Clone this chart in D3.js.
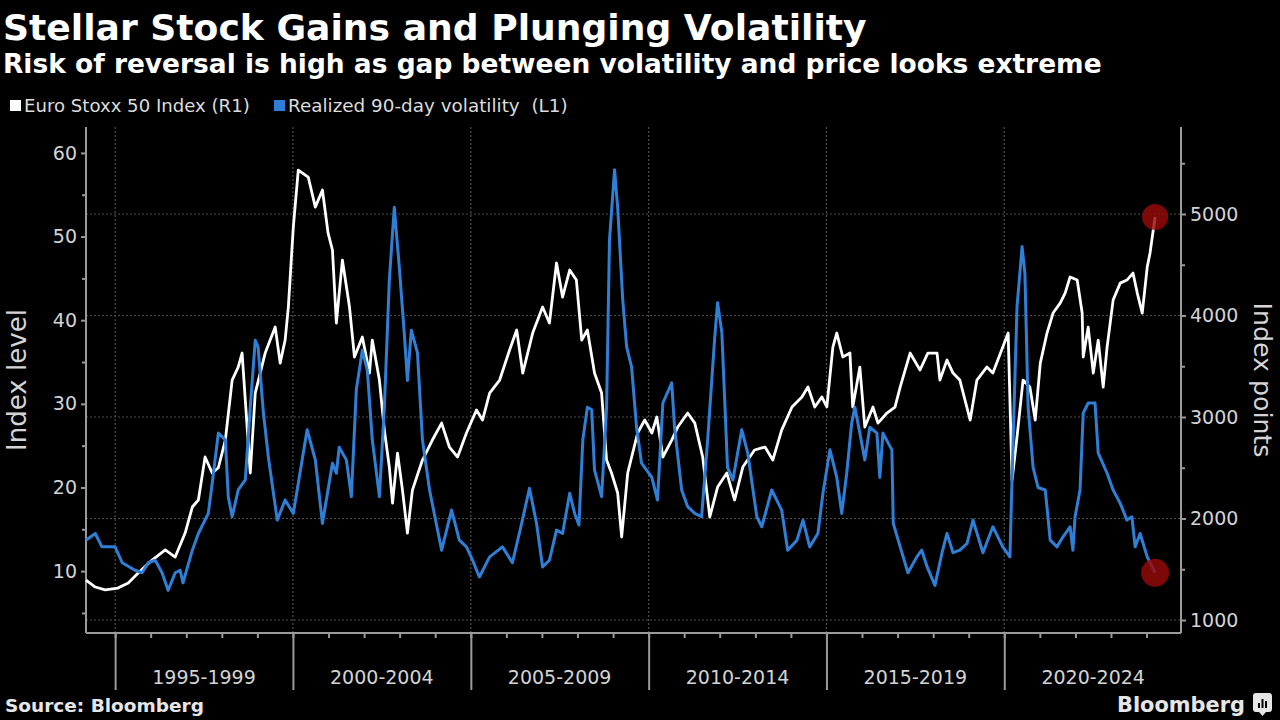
<!DOCTYPE html>
<html>
<head>
<meta charset="utf-8">
<script src="https://cdn.jsdelivr.net/npm/d3@7"></script>
<style>
  html, body { margin: 0; padding: 0; background: #000; }
  svg { display: block; }
  text { font-family: "DejaVu Sans", "Noto Sans", sans-serif; }
</style>
</head>
<body>
<svg id="chart" width="1280" height="720"></svg>
<script>
// ---------------- DATA ----------------
const titleText = "Stellar Stock Gains and Plunging Volatility";
const subtitleText = "Risk of reversal is high as gap between volatility and price looks extreme";
const legendLabels = ["Euro Stoxx 50 Index (R1)", "Realized 90-day volatility  (L1)"];
const periodLabels = ["1995-1999", "2000-2004", "2005-2009", "2010-2014", "2015-2019", "2020-2024"];
const leftTicks = [10, 20, 30, 40, 50, 60];
const leftMinorTicks = [5, 15, 25, 35, 45, 55];
const rightTicks = [1000, 2000, 3000, 4000, 5000];
const rightMinorTicks = [1500, 2500, 3500, 4500, 5500];

// Euro Stoxx 50 index (right axis), decimal year
const indexYears = [1994.18,1994.44,1994.72,1995.08,1995.37,1995.65,1996.04,1996.41,1996.69,1996.97,1997.17,1997.34,1997.53,1997.73,1997.90,1998.10,1998.29,1998.46,1998.57,1998.66,1998.80,1998.94,1999.22,1999.50,1999.64,1999.78,1999.87,2000.01,2000.15,2000.43,2000.63,2000.83,2000.99,2001.11,2001.22,2001.39,2001.59,2001.73,2001.95,2002.15,2002.23,2002.43,2002.57,2002.71,2002.80,2002.94,2003.08,2003.22,2003.36,2003.64,2003.92,2004.18,2004.40,2004.63,2004.88,2005.16,2005.33,2005.53,2005.81,2006.09,2006.29,2006.46,2006.74,2007.02,2007.21,2007.41,2007.58,2007.78,2007.97,2008.12,2008.28,2008.48,2008.68,2008.82,2008.96,2009.13,2009.24,2009.41,2009.69,2009.89,2010.09,2010.23,2010.40,2010.65,2010.82,2011.10,2011.30,2011.52,2011.72,2011.94,2012.20,2012.42,2012.65,2012.98,2013.27,2013.49,2013.74,2014.03,2014.31,2014.48,2014.67,2014.87,2015.01,2015.18,2015.29,2015.46,2015.66,2015.74,2015.94,2016.08,2016.31,2016.45,2016.70,2016.93,2017.07,2017.35,2017.63,2017.85,2018.11,2018.19,2018.39,2018.56,2018.75,2019.04,2019.23,2019.51,2019.68,2019.96,2020.11,2020.22,2020.36,2020.53,2020.72,2020.87,2021.01,2021.20,2021.37,2021.57,2021.71,2021.85,2022.05,2022.19,2022.22,2022.36,2022.50,2022.64,2022.78,2022.89,2023.06,2023.26,2023.45,2023.62,2023.74,2023.88,2024.02,2024.10,2024.24];
const indexValues = [1394,1325,1296,1315,1365,1463,1591,1690,1620,1857,2113,2182,2606,2448,2500,2773,3364,3492,3630,3167,2448,3236,3630,3886,3531,3758,4083,4871,5433,5364,5068,5236,4812,4645,3926,4546,4083,3591,3788,3433,3758,3364,2871,2507,2152,2645,2280,1857,2280,2576,2773,2940,2704,2606,2842,3069,2970,3236,3364,3660,3857,3433,3827,4083,3926,4517,4182,4448,4349,3758,3857,3433,3236,2576,2448,2251,1818,2448,2842,2970,2842,3000,2606,2773,2901,3039,2940,2606,2015,2310,2448,2182,2507,2675,2704,2576,2871,3098,3197,3295,3098,3197,3100,3689,3827,3591,3630,3098,3492,2901,3098,2940,3039,3098,3295,3630,3463,3630,3630,3364,3561,3433,3364,2970,3364,3492,3433,3689,3827,2379,2803,3364,3295,2970,3531,3827,4024,4122,4221,4379,4349,4024,3591,3886,3433,3758,3295,3689,4152,4319,4349,4418,4221,4024,4477,4615,4970];

// Realized 90-day volatility (left axis), decimal year
const volYears = [1994.18,1994.44,1994.63,1995.00,1995.20,1995.56,1995.76,1995.93,1996.13,1996.32,1996.49,1996.69,1996.83,1996.91,1997.17,1997.34,1997.62,1997.73,1997.90,1998.10,1998.18,1998.29,1998.46,1998.66,1998.80,1998.94,1999.02,1999.17,1999.31,1999.56,1999.78,2000.01,2000.40,2000.63,2000.83,2001.11,2001.22,2001.30,2001.50,2001.64,2001.78,2001.95,2002.09,2002.23,2002.43,2002.57,2002.71,2002.85,2002.99,2003.13,2003.22,2003.33,2003.50,2003.64,2003.84,2004.03,2004.18,2004.46,2004.68,2004.88,2005.05,2005.24,2005.53,2005.89,2006.17,2006.43,2006.65,2006.85,2007.02,2007.21,2007.41,2007.58,2007.78,2007.92,2008.04,2008.15,2008.28,2008.40,2008.48,2008.68,2008.82,2008.90,2009.04,2009.13,2009.27,2009.38,2009.52,2009.66,2009.80,2010.09,2010.25,2010.40,2010.65,2010.73,2010.93,2011.10,2011.30,2011.49,2011.66,2011.86,2011.94,2012.06,2012.22,2012.37,2012.62,2012.79,2013.04,2013.18,2013.46,2013.74,2013.91,2014.17,2014.34,2014.53,2014.76,2014.90,2015.10,2015.29,2015.43,2015.57,2015.71,2015.80,2015.94,2016.08,2016.22,2016.42,2016.50,2016.59,2016.84,2016.88,2017.07,2017.29,2017.54,2017.68,2017.83,2018.05,2018.25,2018.39,2018.56,2018.75,2018.95,2019.12,2019.40,2019.68,2019.96,2020.16,2020.25,2020.36,2020.50,2020.58,2020.67,2020.81,2020.95,2021.15,2021.29,2021.48,2021.65,2021.85,2021.93,2021.99,2022.13,2022.22,2022.36,2022.55,2022.64,2022.89,2023.06,2023.26,2023.45,2023.59,2023.68,2023.82,2024.02,2024.24];
const volValues = [13.7,14.5,12.9,12.9,11.0,10.1,9.8,11.0,11.3,9.8,7.7,9.8,10.1,8.6,12.5,14.5,16.9,20.5,26.5,25.7,18.9,16.5,19.7,20.9,29.6,37.6,36.8,28.9,23.6,16.1,18.5,16.9,26.9,23.3,15.7,22.9,21.7,24.8,23.3,18.9,31.7,36.4,34.0,25.7,18.9,29.6,44.8,53.5,46.4,38.5,32.8,38.8,36.1,25.7,19.7,15.7,12.5,17.3,13.7,12.9,11.3,9.3,11.7,12.9,11.0,15.7,19.9,15.7,10.5,11.3,14.9,14.5,19.3,16.9,15.5,25.7,29.6,29.3,22.1,18.9,29.6,49.6,58.0,53.5,42.4,36.8,34.4,27.2,22.9,21.2,18.5,30.1,32.5,27.2,19.7,17.7,16.9,16.5,25.7,38.0,42.1,38.5,22.4,20.9,26.9,24.1,16.5,15.3,19.7,17.3,12.5,13.7,16.1,12.9,14.5,19.3,24.5,21.2,16.9,21.7,27.7,29.6,26.5,23.3,27.2,26.5,21.2,26.5,24.5,15.7,12.9,9.8,11.7,12.5,10.5,8.3,12.2,14.5,12.2,12.5,13.3,16.1,12.2,15.3,12.9,11.7,25.7,41.6,48.8,45.6,29.6,22.4,20.0,19.7,13.7,12.9,14.1,15.3,12.5,16.5,19.7,28.9,30.1,30.1,24.1,21.7,19.7,18.1,16.1,16.5,12.9,14.5,11.7,9.8];

// ---------------- HELPERS ----------------
function decToDate(y) {
  const yr = Math.floor(y);
  const f = y - yr;
  return new Date(yr, 0, 1 + Math.round(f * 365));
}
const indexData = indexYears.map((y, i) => ({ date: decToDate(y), value: indexValues[i] }));
const volData = volYears.map((y, i) => ({ date: decToDate(y), value: volValues[i] }));

const svg = d3.select("#chart");
svg.append("rect").attr("width", 1280).attr("height", 720).attr("fill", "#000");

function fitText(sel, targetWidth) {
  const node = sel.node();
  const base = parseFloat(sel.attr("font-size"));
  const w = node.getComputedTextLength();
  if (w > 0) sel.attr("font-size", (base * targetWidth / w).toFixed(2));
  return sel;
}

// ---------------- LAYOUT ----------------
const plot = { left: 86, right: 1181, top: 127, bottom: 633 };

const x = d3.scaleTime()
  .domain([decToDate(1994.18), decToDate(2024.97)])
  .range([plot.left, plot.right]);
const yL = d3.scaleLinear().domain([2.6, 63.1]).range([plot.bottom, plot.top]);
const yR = d3.scaleLinear().domain([872, 5857]).range([plot.bottom, plot.top]);

const gridColor = "#4d4d4d";
const axisColor = "#9a9a9a";
const labelColor = "#d4d4d4";

// ---------------- GRID ----------------
const majorYears = d3.range(1995, 2021, 5).map(y => new Date(y, 0, 1));
const minorYears = d3.range(1995, 2025).map(y => new Date(y, 0, 1));

svg.append("g").selectAll("line").data(rightTicks).join("line")
  .attr("x1", plot.left).attr("x2", plot.right)
  .attr("y1", d => yR(d)).attr("y2", d => yR(d))
  .attr("stroke", gridColor).attr("stroke-width", 1.2).attr("stroke-dasharray", "2,2");

svg.append("g").selectAll("line").data(majorYears).join("line")
  .attr("x1", d => x(d)).attr("x2", d => x(d))
  .attr("y1", plot.top).attr("y2", plot.bottom)
  .attr("stroke", gridColor).attr("stroke-width", 1.2).attr("stroke-dasharray", "2,2");

// ---------------- AXES ----------------
const gL = svg.append("g").attr("transform", `translate(${plot.left},0)`);
gL.call(d3.axisLeft(yL).tickValues(leftTicks).tickSize(5).tickPadding(4).tickFormat(d3.format("d")));
gL.append("g").call(d3.axisLeft(yL).tickValues(leftMinorTicks).tickSize(4).tickFormat(""));
gL.selectAll(".domain").attr("d", `M0,${plot.top}V${plot.bottom}`);

const gR = svg.append("g").attr("transform", `translate(${plot.right},0)`);
gR.call(d3.axisRight(yR).tickValues(rightTicks).tickSize(5).tickPadding(4).tickFormat(d3.format("d")));
gR.append("g").call(d3.axisRight(yR).tickValues(rightMinorTicks).tickSize(4).tickFormat(""));
gR.selectAll(".domain").attr("d", `M0,${plot.top}V${plot.bottom}`);

const gB = svg.append("g").attr("transform", `translate(0,${plot.bottom})`);
gB.call(d3.axisBottom(x).tickValues(minorYears).tickSize(5).tickFormat(""));
gB.append("g").call(d3.axisBottom(x).tickValues(majorYears).tickSize(57).tickFormat(""));
gB.selectAll(".domain").attr("d", `M${plot.left},0H${plot.right}`);

svg.selectAll(".domain").attr("stroke", axisColor).attr("stroke-width", 2);
svg.selectAll(".tick line").attr("stroke", axisColor).attr("stroke-width", 2);
svg.selectAll(".tick text").attr("fill", labelColor).attr("font-size", 19)
  .attr("font-family", "DejaVu Sans, sans-serif");

svg.append("g").selectAll("text").data(periodLabels).join("text")
  .attr("x", (d, i) => x(new Date(1997 + 5 * i, 6, 2)))
  .attr("y", 684)
  .attr("text-anchor", "middle")
  .attr("fill", labelColor).attr("font-size", 19)
  .text(d => d);

const lt = svg.append("text")
  .attr("transform", "translate(26,380) rotate(-90)")
  .attr("text-anchor", "middle").attr("fill", labelColor).attr("font-size", 24)
  .text("Index level");
fitText(lt, 142);
const rt = svg.append("text")
  .attr("transform", "translate(1254,380) rotate(90)")
  .attr("text-anchor", "middle").attr("fill", labelColor).attr("font-size", 24)
  .text("Index points");
fitText(rt, 155);

// ---------------- LINES ----------------
const lineIdx = d3.line().x(d => x(d.date)).y(d => yR(d.value));
const lineVol = d3.line().x(d => x(d.date)).y(d => yL(d.value));

svg.append("path").datum(indexData)
  .attr("d", lineIdx).attr("fill", "none")
  .attr("stroke", "#ffffff").attr("stroke-width", 2.8).attr("stroke-linejoin", "round");

svg.append("path").datum(volData)
  .attr("d", lineVol).attr("fill", "none")
  .attr("stroke", "#2f7fd6").attr("stroke-width", 3).attr("stroke-linejoin", "round");

const lastIdx = indexData[indexData.length - 1];
const lastVol = volData[volData.length - 1];
svg.append("circle").attr("cx", x(lastIdx.date)).attr("cy", yR(lastIdx.value)).attr("r", 13)
  .attr("fill", "#990a0a").attr("fill-opacity", 0.82);
svg.append("circle").attr("cx", x(lastVol.date)).attr("cy", yL(lastVol.value)).attr("r", 14)
  .attr("fill", "#990a0a").attr("fill-opacity", 0.82);

// ---------------- TITLES ----------------
const t1 = svg.append("text").attr("x", 3).attr("y", 40)
  .attr("font-weight", "bold").attr("font-size", 34).attr("fill", "#fff").text(titleText);
fitText(t1, 864);
const t2 = svg.append("text").attr("x", 3).attr("y", 73)
  .attr("font-weight", "bold").attr("font-size", 23).attr("fill", "#fff").text(subtitleText);
fitText(t2, 1099);

const legColors = ["#ffffff", "#2f7fd6"];
const legX = [10, 274];
const legW = [226, 280];
legendLabels.forEach((lab, i) => {
  svg.append("rect").attr("x", legX[i]).attr("y", 100).attr("width", 11).attr("height", 11)
    .attr("fill", legColors[i]);
  const t = svg.append("text").attr("x", legX[i] + 14).attr("y", 112)
    .attr("font-size", 15).attr("fill", "#dcdcdc")
    .style("white-space", "pre").text(lab);
  fitText(t, legW[i]);
});

const src = svg.append("text").attr("x", 5).attr("y", 712)
  .attr("font-weight", "bold").attr("font-size", 17).attr("fill", "#e6e6e6")
  .text("Source: Bloomberg");
fitText(src, 199);
const bb = svg.append("text").attr("x", 1117).attr("y", 712)
  .attr("font-weight", "bold").attr("font-size", 22).attr("fill", "#e6e6e6")
  .text("Bloomberg");
fitText(bb, 128);
const icon = svg.append("g").attr("transform", "translate(1253,693)");
icon.append("rect").attr("width", 19).attr("height", 19).attr("rx", 3).attr("fill", "#e6e6e6");
icon.append("path").attr("d", "M6,19 L9.5,23 L13,19 Z").attr("fill", "#e6e6e6");
[[5, 10, 2, 5], [8.5, 6, 2, 9], [12, 8, 2, 7]].forEach(b => {
  icon.append("rect").attr("x", b[0]).attr("y", b[1]).attr("width", b[2]).attr("height", b[3]).attr("fill", "#000");
});
</script>
</body>
</html>
